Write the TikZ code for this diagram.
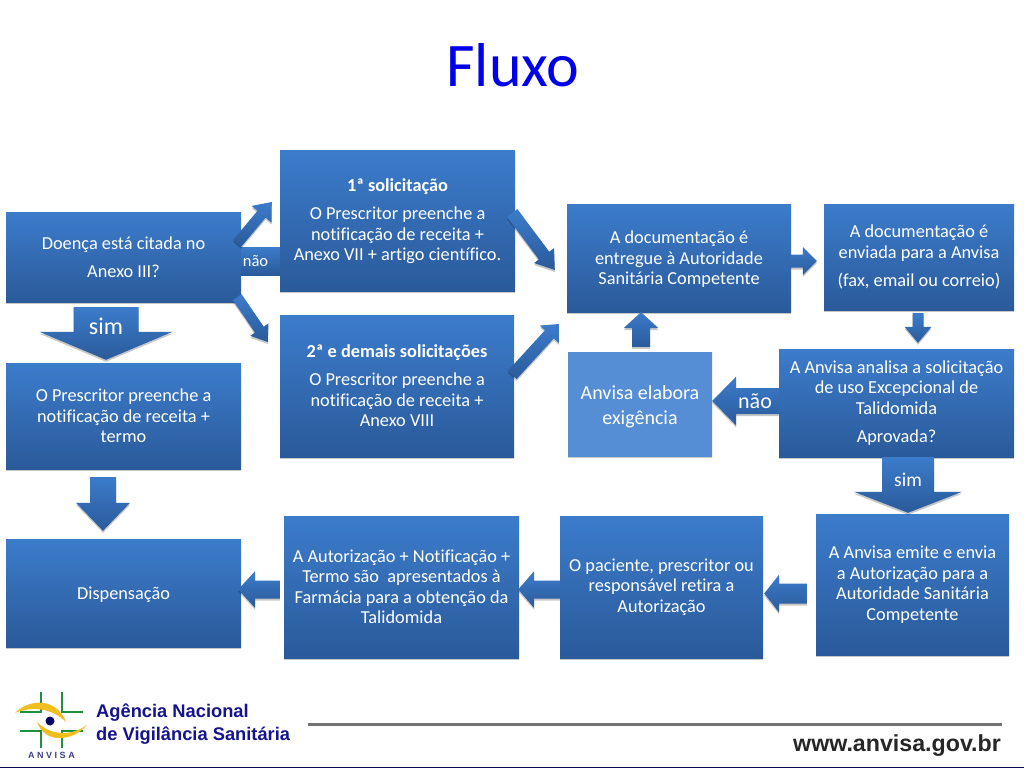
\documentclass[tikz,border=0pt]{standalone}
\usepackage{fontspec}
\setmainfont{Carlito}[Ligatures=NoCommon]
\newfontfamily\logofont{Liberation Sans}
\usetikzlibrary{calc,shadows}

\definecolor{boxtop}{HTML}{3C7CCB}
\definecolor{boxmiddle}{HTML}{3773C0}
\definecolor{boxbottom}{HTML}{2A5A9A}
\definecolor{boxlight}{HTML}{558ED5}
\definecolor{logoblue}{HTML}{14148C}
\definecolor{logogreen}{HTML}{1E9040}
\definecolor{logoyellow}{HTML}{F0BE1E}

\tikzset{
    softshadow/.style={drop shadow={shadow xshift=0pt, shadow yshift=-2pt, opacity=.22, fill=black}},
    bluefill/.style={top color=boxtop, middle color=boxmiddle, bottom color=boxbottom},
    flowbox/.style={bluefill, softshadow, text=white, align=center, inner sep=0pt, font=\fontsize{18.3}{20.5}\selectfont},
    blockarrow/.style n args={3}{bluefill, softshadow, to path={
        ($(\tikztostart)!#1pt!90:(\tikztotarget)$)
        -- ($($(\tikztotarget)!#3pt!(\tikztostart)$)!#1pt!90:(\tikztotarget)$)
        -- ($($(\tikztotarget)!#3pt!(\tikztostart)$)!#2pt!90:(\tikztotarget)$)
        -- (\tikztotarget)
        -- ($($(\tikztotarget)!#3pt!(\tikztostart)$)!#2pt!-90:(\tikztotarget)$)
        -- ($($(\tikztotarget)!#3pt!(\tikztostart)$)!#1pt!-90:(\tikztotarget)$)
        -- ($(\tikztostart)!#1pt!-90:(\tikztotarget)$) -- cycle}},
    arrowlabel/.style={text=white, inner sep=0pt}
}

\begin{document}
\begin{tikzpicture}[x=1pt, y=-1pt]
    \useasboundingbox[fill=white] (0,0) rectangle (1024,768);

    \node[text=blue!92!black, font=\fontsize{62}{62}\selectfont, inner sep=0pt] (title) at (513,65.5) {Fluxo};

    \node[flowbox, minimum width=235, minimum height=90] (doenca) at (123.5,257) {Doença está citada no\\[7.5pt] Anexo III?};
    \node[flowbox, minimum width=235, minimum height=141] (sol1) at (397.5,220.5) {\rule{0pt}{15pt}\textbf{1ª solicitação}\\[7.5pt] O Prescritor preenche a\\ notificação de receita +\\ Anexo VII + artigo científico.};
    \node[flowbox, minimum width=234, minimum height=142] (sol2) at (397,386) {\textbf{2ª e demais solicitações}\\[7.5pt] O Prescritor preenche a\\ notificação de receita +\\ Anexo VIII};
    \node[flowbox, minimum width=235, minimum height=106] (prescritor) at (123.5,416) {O Prescritor preenche a\\ notificação de receita +\\ termo};
    \node[flowbox, minimum width=235, minimum height=108] (dispensacao) at (123.5,593) {\rule{0pt}{17pt}Dispensação};
    \node[flowbox, minimum width=224, minimum height=108] (doc) at (679,258) {\rule{0pt}{15pt}A documentação é\\ entregue à Autoridade\\ Sanitária Competente};
    \node[flowbox, minimum width=190, minimum height=106] (envio) at (919,257) {A documentação é\\ enviada para a Anvisa\\[7.5pt] (fax, email ou correio)};
    \node[flowbox, minimum width=235, minimum height=108] (analise) at (896.5,403) {A Anvisa analisa a solicitação\\ de uso Excepcional de\\ Talidomida\\[7.5pt] Aprovada?};
    \node[flowbox, top color=boxlight, middle color=boxlight, bottom color=boxlight, minimum width=144, minimum height=104, font=\fontsize{20}{25}\selectfont] (exigencia) at (640,404) {\rule{0pt}{18.5pt}Anvisa elabora\\ exigência};
    \node[flowbox, minimum width=193, minimum height=141] (emite) at (912.5,584.5) {A Anvisa emite e envia\\ a Autorização para a\\ Autoridade Sanitária\\ Competente};
    \node[flowbox, minimum width=203, minimum height=142] (retira) at (661.5,587) {O paciente, prescritor ou\\ responsável retira a\\ Autorização};
    \node[flowbox, minimum width=235, minimum height=142] (farmacia) at (401.5,587) {A Autorização + Notificação +\\ Termo são\ \ apresentados à\\ Farmácia para a obtenção da\\ Talidomida};

    \path[bluefill] ([shift={(0,-10)}]doenca.east) rectangle ([shift={(0,54.5)}]sol1.west);
    \path[blockarrow={5.3}{13}{16}] ([shift={(-4,31.5)}]doenca.north east) to ([shift={(-8,-18.5)}]sol1.west);
    \path[blockarrow={5.3}{11}{15}] ([shift={(-4,-5)}]doenca.south east) to ([shift={(-12,-44)}]sol2.west);
    \path[blockarrow={32.5}{66.5}{28}] ([shift={(-17.5,5)}]doenca.south) to ([shift={(-17.5,-3)}]prescritor.north);
    \path[blockarrow={13}{27}{28}] ([shift={(-20.5,8)}]prescritor.south) to ([shift={(-20.5,-8)}]dispensacao.north);
    \path[blockarrow={6.5}{12.5}{18}] ([shift={(-3,-7.5)}]sol1.east) to ([shift={(-12,12)}]doc.west);
    \path[blockarrow={6}{13}{14}] ([shift={(-2,-11)}]sol2.east) to ([shift={(-8,66)}]doc.west);
    \path[blockarrow={6.5}{14}{14}] ([shift={(0,3)}]doc.east) to ([shift={(-7,4)}]envio.west);
    \path[blockarrow={5.5}{13.5}{16}] ([shift={(-1,3)}]envio.south) to ([shift={(21.5,-6)}]analise.north);
    \path[blockarrow={13}{24.5}{24}] ([shift={(0,-2)}]analise.west) to ([shift={(0,-3)}]exigencia.east);
    \path[blockarrow={9}{17.5}{16}] ([shift={(1,-5)}]exigencia.north) to ([shift={(-38,0)}]doc.south);
    \path[blockarrow={26}{54}{21}] ([shift={(11.5,0)}]analise.south) to ([shift={(-4.5,-1)}]emite.north);
    \path[blockarrow={10}{19}{15}] ([shift={(-9,9)}]emite.west) to ([shift={(1,6.5)}]retira.east);
    \path[blockarrow={9}{18.5}{16}] ([shift={(0,2.5)}]retira.west) to ([shift={(-1,2.5)}]farmacia.east);
    \path[blockarrow={9}{18.5}{17}] ([shift={(-4,2.5)}]farmacia.west) to ([shift={(-3,-3.5)}]dispensacao.east);

    \node[arrowlabel, font=\fontsize{16.5}{16.5}\selectfont] (naoA) at (255.5,261) {não};
    \node[arrowlabel, font=\fontsize{24}{24}\selectfont] (simA) at (106,326) {sim};
    \node[arrowlabel, font=\fontsize{22}{22}\selectfont] (naoB) at (755,401) {não};
    \node[arrowlabel, font=\fontsize{19.5}{19.5}\selectfont] (simB) at (908,480) {sim};

    % footer
    \draw[gray!90!black, line width=3pt] (308,724) -- (1002,724);
    \fill[logoblue!60!black] (0,766.5) rectangle (1024,768);
    \node[text=logoblue, font=\logofont\bfseries\fontsize{18.3}{23}\selectfont, align=left, inner sep=0pt, anchor=west] (agencia) at (96,724) {Agência Nacional\\ de Vigilância Sanitária};
    \node[text=black!85, font=\logofont\bfseries\fontsize{23.2}{23}\selectfont, inner sep=0pt, anchor=east] (site) at (1001,746) {www.anvisa.gov.br};

    % logo
    \draw[logogreen, line width=2.5pt] (20,712) -- (41,712) -- (41,692);
    \draw[logogreen, line width=2.5pt] (83,712) -- (62,712) -- (62,692);
    \draw[logogreen, line width=2.5pt] (20,731) -- (41,731) -- (41,748);
    \draw[logogreen, line width=2.5pt] (83,731) -- (62,731) -- (62,748);
    \fill[logoyellow] (15,713) .. controls (30,698) and (57,698) .. (66,722) .. controls (52,708) and (32,706) .. (15,713);
    \fill[logoyellow] (87,725) .. controls (72,742) and (45,744) .. (37,722) .. controls (50,735) and (70,737) .. (87,725);
    \fill[blue!40!black] (50,721) circle (4.5);
    \node[text=logoblue!60!gray, font=\logofont\bfseries\fontsize{9}{9}\selectfont, inner sep=0pt] (sigla) at (51.5,755) {A N V I S A};
\end{tikzpicture}
\end{document}
